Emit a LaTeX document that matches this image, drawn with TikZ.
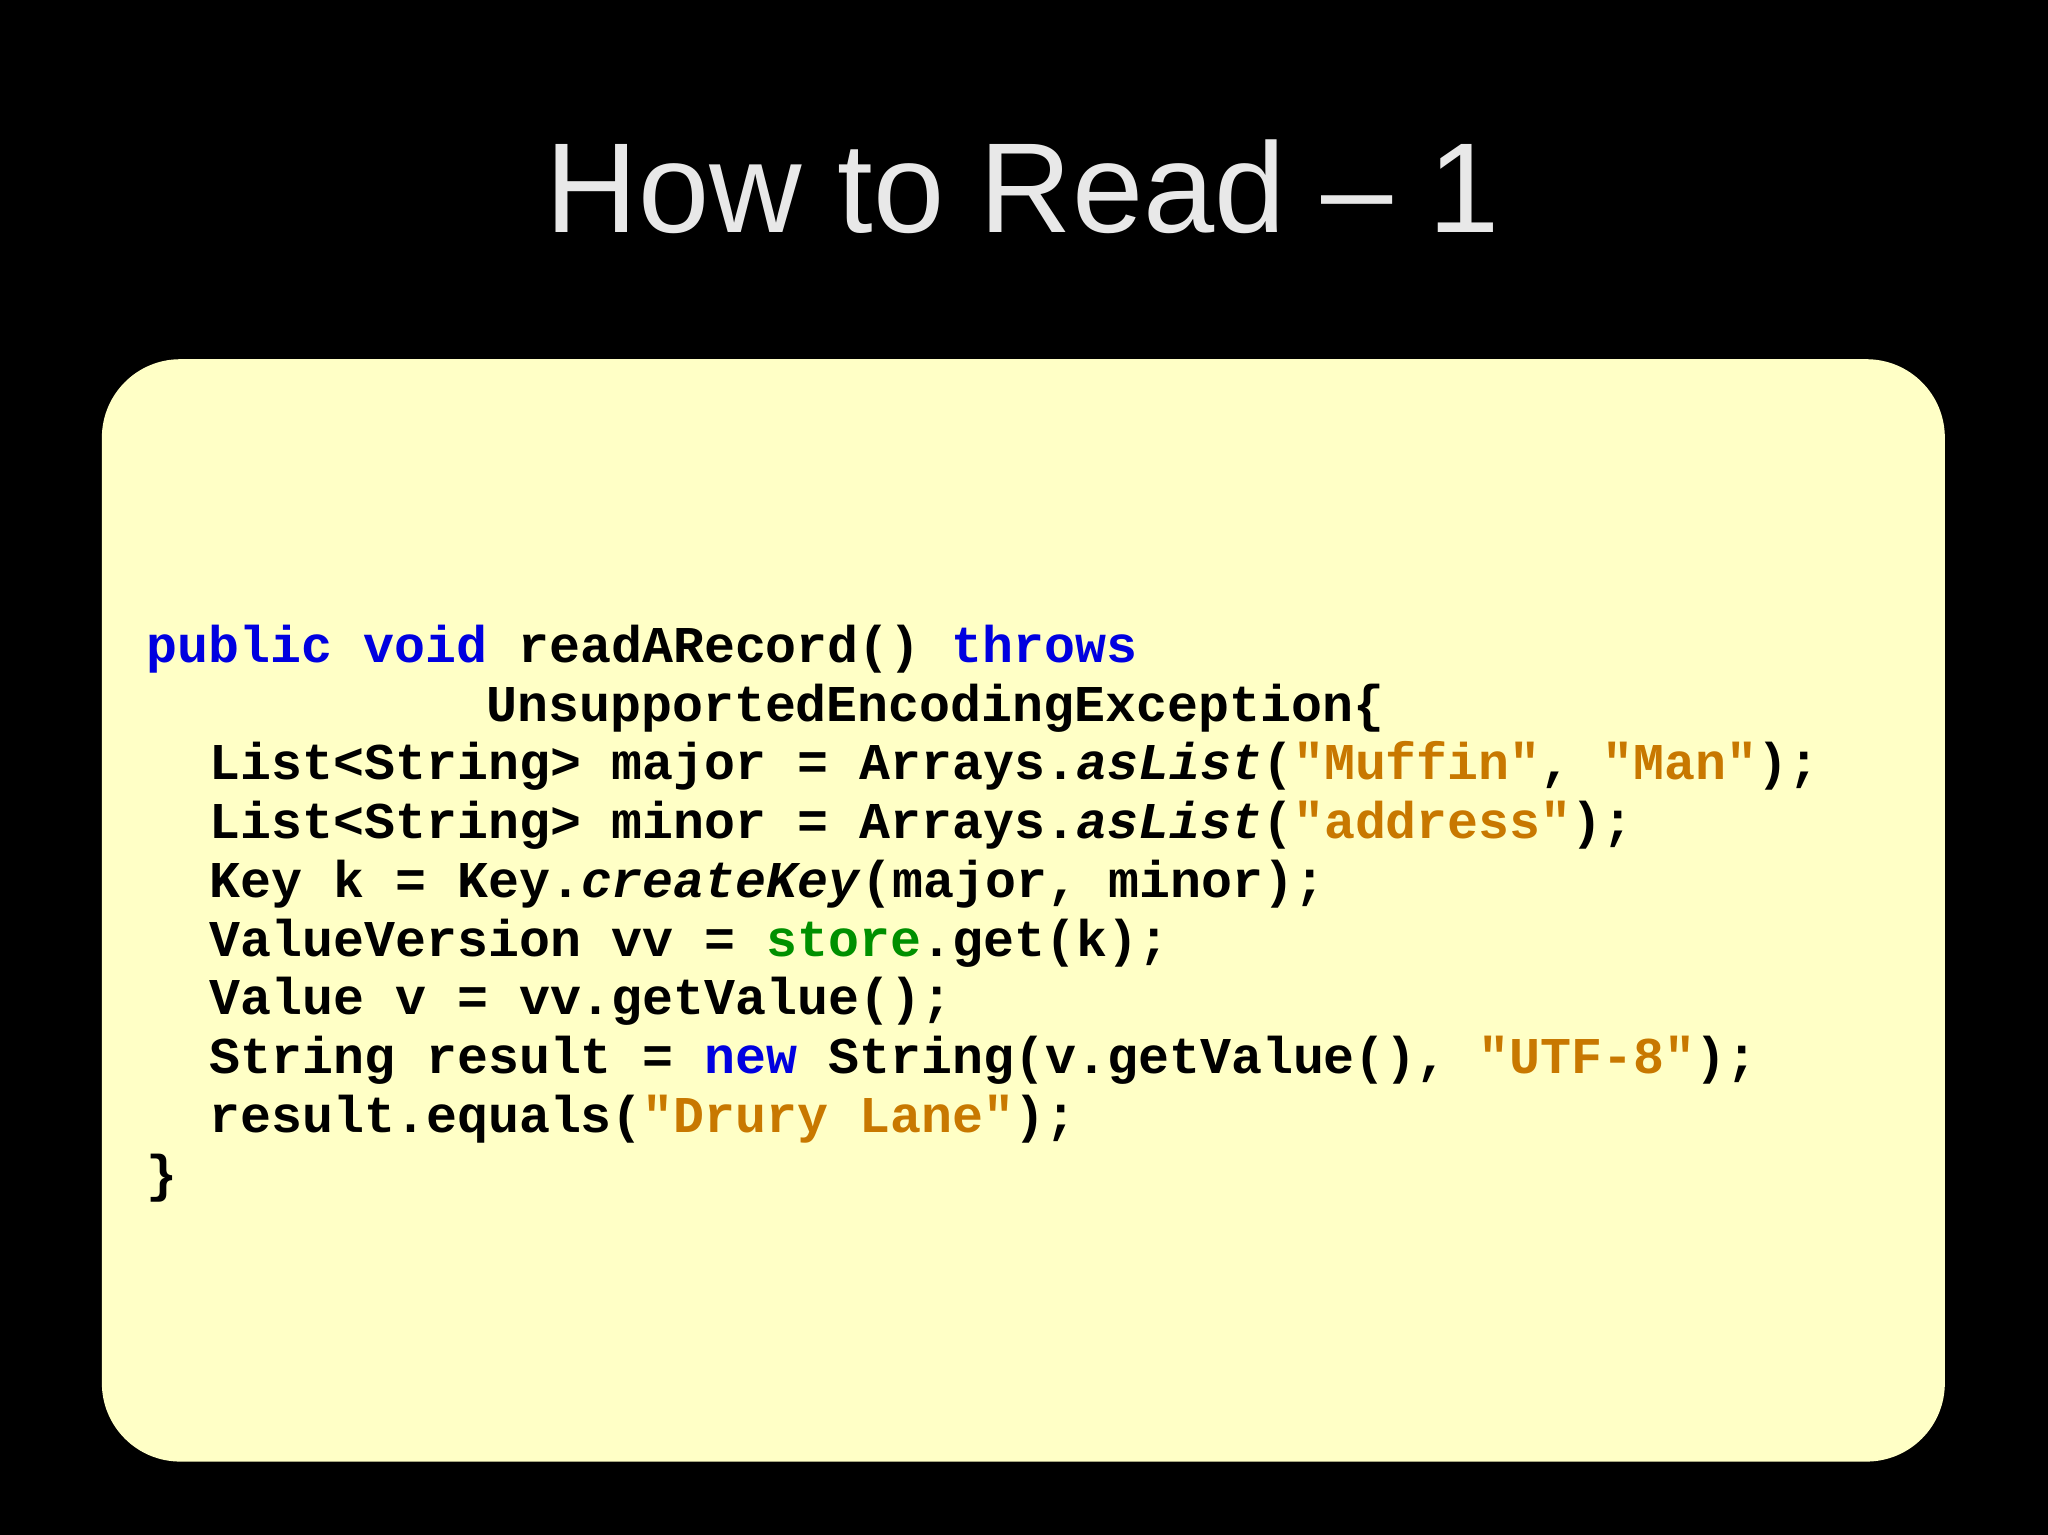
\documentclass[tikz,border=0pt]{standalone}
\usepackage{fontspec}
\setmainfont{Liberation Sans}
\setmonofont{Liberation Mono}
\definecolor{kw}{HTML}{0000E0}
\definecolor{st}{HTML}{C87800}
\definecolor{gr}{HTML}{009000}
\definecolor{boxc}{HTML}{FFFFC6}
\definecolor{titlec}{HTML}{E8E8E8}
\newcommand{\K}[1]{\textcolor{kw}{#1}}
\newcommand{\Sq}[1]{\textcolor{st}{#1}}
\begin{document}
\begin{tikzpicture}[x=0.5pt,y=-0.5pt,
  codeline/.style={anchor=base west,inner sep=0pt,font=\ttfamily\bfseries\fontsize{19.75pt}{22.5pt}\selectfont}]
\fill[black] (0,0) rectangle (1568,1175);
\useasboundingbox (0,0) rectangle (1568,1175);
\node[anchor=base,inner sep=0pt,text=titlec,font=\fontsize{49pt}{55pt}\selectfont] (title) at (783,178) {How to Read – 1};
\fill[boxc,rounded corners=30pt] (78,275) rectangle (1489,1119);
\node[codeline] (l1) at (112,507) {\K{public} \K{void} readARecord() \K{throws}};
\node[codeline] (l2) at (372,552) {UnsupportedEncodingException\{};
\node[codeline] (l3) at (160,597) {List<String> major = Arrays.\textit{asList}(\Sq{"Muffin"}, \Sq{"Man"});};
\node[codeline] (l4) at (160,642) {List<String> minor = Arrays.\textit{asList}(\Sq{"address"});};
\node[codeline] (l5) at (160,687) {Key k = Key.\textit{createKey}(major, minor);};
\node[codeline] (l6) at (160,732) {ValueVersion vv = \textcolor{gr}{store}.get(k);};
\node[codeline] (l7) at (160,777) {Value v = vv.getValue();};
\node[codeline] (l8) at (160,822) {String result = \K{new} String(v.getValue(), \Sq{"UTF-8"});};
\node[codeline] (l9) at (160,867) {result.equals(\Sq{"Drury Lane"});};
\node[codeline] (l10) at (112,912) {\}};
\end{tikzpicture}
\end{document}
